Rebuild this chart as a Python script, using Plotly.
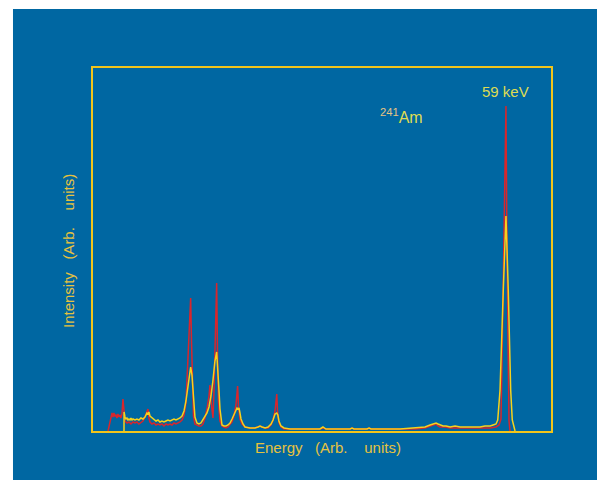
import plotly.graph_objects as go

# ---- data (energy in keV, intensity in arbitrary units) ----
red_energy = [2.00, 2.43, 2.58, 2.72, 2.86, 3.00, 3.15, 3.29, 3.44, 3.58, 3.73, 3.87, 4.02, 4.16, 4.31, 4.45,
              4.74, 5.03, 5.32, 5.61, 5.90, 6.18, 6.47, 6.76, 7.05, 7.34, 7.78, 7.92, 8.07, 8.36, 8.65,
              8.94, 9.23, 9.51, 9.80, 10.09, 10.38, 10.67, 10.97, 11.25, 11.54, 11.83, 12.12, 12.41, 12.70,
              12.99, 13.27, 13.49, 13.71, 13.95, 14.07, 14.21, 14.36, 14.57, 14.86, 15.15, 15.44, 15.73, 16.02,
              16.31, 16.60, 16.74, 16.89, 17.03, 17.18, 17.32, 17.46, 17.71, 17.83, 17.97, 18.19, 18.48,
              18.77, 19.06, 19.35, 19.64, 19.93, 20.21, 20.50, 20.74, 20.86, 21.08, 21.37, 21.81, 22.53, 23.25,
              23.69, 23.98, 24.27, 24.71, 25.14, 25.57, 25.86, 26.15, 26.40, 26.51, 26.73, 27.01, 27.45,
              28.30, 29.75, 32.64, 33.08, 33.51, 37.00, 37.28, 37.57, 39.45, 39.74, 40.03, 44.22, 46.39,
              47.83, 48.56, 48.99, 49.43, 49.72, 50.01, 50.73, 51.46, 52.90, 54.35, 55.79, 57.24, 58.10,
              58.54, 58.82, 58.97, 59.11, 59.33, 59.54, 59.69, 59.83, 59.98, 60.12]
red_counts = [0, 15, 18, 14, 18, 15, 16, 13, 17, 14, 16, 13, 17, 32, 19, 10,
              8, 9, 7, 9, 8, 9, 7, 9, 10, 14, 22, 13, 9, 7, 8,
              6, 7, 6, 7, 5, 7, 6, 7, 6, 8, 7, 8, 9, 11,
              16, 28, 60, 100, 133, 90, 40, 15, 7, 6, 5, 5, 7, 13,
              22, 35, 46, 30, 18, 13, 40, 90, 148, 80, 30, 10, 5,
              4, 3, 4, 6, 9, 15, 26, 45, 25, 12, 7, 4, 3, 3,
              4, 5, 4, 3, 3, 6, 11, 20, 37, 20, 8, 4, 2,
              2, 2, 2, 3, 2, 2, 3, 2, 2, 3, 2, 2, 2,
              3, 5, 6, 7, 5, 4, 4, 3, 3, 3, 3, 3, 4,
              6, 12, 60, 130, 230, 325, 180, 50, 10, 0]

yellow_energy = [4.31, 4.32, 4.45, 4.60, 4.74, 4.89, 5.03, 5.18, 5.32, 5.47, 5.61, 5.90, 6.18, 6.47, 6.76,
                 7.05, 7.34, 7.49, 7.63, 7.78, 7.92, 8.07, 8.36, 8.65, 8.94, 9.23, 9.51, 9.80, 10.09,
                 10.38, 10.67, 10.97, 11.25, 11.54, 11.83, 12.12, 12.41, 12.70, 12.99, 13.27, 13.56, 13.77,
                 13.95, 14.14, 14.29, 14.43, 14.57, 14.86, 15.15, 15.44, 15.73, 16.02, 16.31, 16.60, 16.89,
                 17.18, 17.46, 17.71, 17.90, 18.05, 18.19, 18.34, 18.48, 18.77, 19.06, 19.35, 19.64,
                 19.93, 20.21, 20.50, 20.65, 20.79, 20.94, 21.08, 21.23, 21.52, 21.81, 22.53, 23.25,
                 23.69, 23.98, 24.27, 24.71, 25.14, 25.57, 25.86, 26.15, 26.40, 26.56, 26.71, 27.01,
                 27.45, 28.30, 29.75, 32.64, 33.08, 33.51, 37.00, 37.28, 37.57, 39.45, 39.74, 40.03,
                 44.22, 46.39, 47.83, 48.56, 48.99, 49.43, 49.72, 50.01, 50.44, 50.88, 51.46, 52.18,
                 52.90, 53.62, 54.35, 55.07, 55.79, 56.51, 57.24, 57.67, 58.10, 58.35, 58.68, 59.15,
                 59.54, 59.87, 60.22, 60.45, 60.85]
yellow_counts = [0, 19, 14, 12, 13, 11, 12, 11, 13, 11, 12, 11, 12, 11, 13,
                 12, 14, 16, 18, 17, 19, 15, 13, 11, 10, 11, 9, 10, 9,
                 10, 11, 10, 11, 12, 11, 12, 13, 15, 20, 30, 45, 58,
                 64, 56, 40, 25, 14, 8, 7, 8, 11, 15, 18, 24, 35,
                 51, 70, 79, 62, 40, 22, 12, 6, 5, 5, 6, 8,
                 12, 17, 22, 23, 22, 23, 18, 12, 7, 4, 3, 3,
                 4, 5, 4, 3, 4, 7, 11, 17, 18, 16, 10, 5,
                 3, 2, 2, 2, 4, 2, 2, 3, 2, 2, 3, 2,
                 2, 3, 4, 6, 7, 8, 7, 6, 5, 5, 4, 5,
                 4, 4, 4, 4, 4, 5, 5, 6, 7, 11, 41, 141,
                 215, 141, 41, 11, 0]

energy_range = [-0.17, 66.05]
intensity_range = [0, 363]

BLUE = "#0067A2"
FRAME = "#F2C41A"
RED = "#D8262C"
YELLOW = "#F6D21C"
TITLE_C = "#E6C23E"
NOTE_C = "#DEDC52"

fig = go.Figure()
fig.add_trace(go.Scatter(x=red_energy, y=red_counts, mode="lines",
                         line=dict(color=RED, width=1.5), showlegend=False))
fig.add_trace(go.Scatter(x=yellow_energy, y=yellow_counts, mode="lines",
                         line=dict(color=YELLOW, width=1.5), showlegend=False))

axis_common = dict(showgrid=False, zeroline=False, showticklabels=False, ticks="",
                   showline=True, linecolor=FRAME, linewidth=1.5, mirror=True)
fig.update_xaxes(range=energy_range, **axis_common)
fig.update_yaxes(range=intensity_range, **axis_common)

FONT = "Liberation Sans, Arial, Noto Sans CJK SC, sans-serif"
SP = "\u00a0"

fig.update_layout(
    width=597, height=472,
    margin=dict(l=85, r=54, t=60, b=49),
    paper_bgcolor=BLUE, plot_bgcolor=BLUE,
    font=dict(family=FONT),
    shapes=[
        dict(type="rect", xref="paper", yref="paper", x0=-0.3, x1=1.3, y0=1.1625, y1=1.3,
             fillcolor="white", line=dict(width=0), layer="below"),
        dict(type="rect", xref="paper", yref="paper", x0=-0.3, x1=-0.1747, y0=-0.3, y1=1.3,
             fillcolor="white", line=dict(width=0), layer="below"),
    ],
    annotations=[
        dict(text="59 keV", x=59.54, xref="x", y=0.9366, yref="paper", showarrow=False,
             xanchor="center", yanchor="middle", font=dict(size=15, color=NOTE_C, family=FONT)),
        dict(text="<sup><span style='color:#E8C482'>241</span></sup>Am", x=41.03, xref="x", y=0.868, yref="paper",
             showarrow=False, xanchor="left", yanchor="middle", font=dict(size=16, color=NOTE_C, family=FONT)),
        dict(text="Energy" + SP * 3 + "(Arb." + SP * 4 + "units)", x=0.513, xref="paper", y=-0.0468, yref="paper",
             showarrow=False, xanchor="center", yanchor="middle", font=dict(size=15, color=TITLE_C, family=FONT)),
        dict(text="Intensity" + SP * 3 + "(Arb." + SP * 4 + "units)", x=-0.0524, xref="paper", y=0.4959, yref="paper",
             showarrow=False, xanchor="center", yanchor="middle", textangle=-90,
             font=dict(size=15, color=TITLE_C, family=FONT)),
    ],
)

fig.write_html("out.html")
